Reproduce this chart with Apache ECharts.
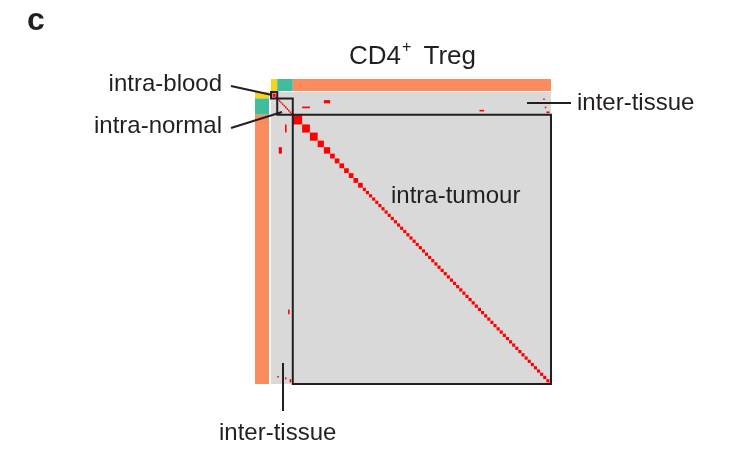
<!DOCTYPE html>
<html>
<head>
<meta charset="utf-8">
<script src="https://cdn.jsdelivr.net/npm/echarts@6/dist/echarts.min.js"></script>
<style>
html,body{margin:0;padding:0;background:#fff;}
#chart{width:729px;height:457px;}
</style>
</head>
<body>
<div id="chart"></div>
<script>
// ---- data ----
const tissueNames = ['blood', 'normal', 'tumour'];
const tissueCellCounts = [4, 10, 166];
const tissueColors = ['#f7d417', '#3fbd9c', '#fc8b5e'];
// clonotype sizes along the diagonal (cells), per tissue
const diagBlocksBlood = [1, 2, 1];
const diagBlocksNormal = [1, 1, 1, 1, 1, 1, 1, 1, 1, 1];
const diagBlocksTumour = [6, 5, 5, 4, 4, 3, 3, 3, 3, 3, 3, 3,
  2, 2, 2, 2, 2, 2, 2, 2, 2, 2,
  2, 2, 2, 2, 2, 2, 2, 2, 2, 2,
  2, 2, 2, 2, 2, 2, 2, 2, 2, 2,
  2, 2, 2, 2, 2, 2, 2, 2, 2, 2,
  2, 2, 2, 2, 2, 2, 2, 2, 2, 2,
  2, 2, 2, 2, 2, 2, 2, 2, 2, 2,
  1];
// inter-tissue sharing (upper triangle; mirrored below)
const sharedRowStart = [9, 5, 11, 4, 9, 12];
const sharedRowLen   = [1, 2, 1, 1, 1, 1];
const sharedColStart = [20, 34, 134, 175, 176, 177];
const sharedColLen   = [5, 4, 3, 1, 1, 2];
const boxLabels = ['intra-blood', 'intra-normal', 'intra-tumour'];

// ---- build ----
const N = tissueCellCounts.reduce((a, b) => a + b, 0);
const tissueStart = [];
let acc = 0;
tissueCellCounts.forEach(c => { tissueStart.push(acc); acc += c; });

const barData = tissueCellCounts.map((c, i) => [tissueStart[i], c, i]);
const diagData = [];
[diagBlocksBlood, diagBlocksNormal, diagBlocksTumour].forEach((blocks, t) => {
  let s = tissueStart[t];
  blocks.forEach(b => { diagData.push([s, s, b, b]); s += b; });
});
const sharedData = [];
sharedRowStart.forEach((r, i) => {
  sharedData.push([sharedColStart[i], r, sharedColLen[i], sharedRowLen[i]]);
  sharedData.push([r, sharedColStart[i], sharedRowLen[i], sharedColLen[i]]);
});
const boxData = tissueCellCounts.map((c, i) => [tissueStart[i], tissueStart[i], c, c]);

function rectItem(params, api, style) {
  const p0 = api.coord([api.value(0), api.value(1)]);
  const p1 = api.coord([api.value(0) + api.value(2), api.value(1) + api.value(3)]);
  return {
    type: 'rect',
    shape: { x: p0[0], y: p0[1], width: p1[0] - p0[0], height: p1[1] - p0[1] },
    style: style
  };
}

const chart = echarts.init(document.getElementById('chart'), null, { renderer: 'canvas' });
const textColor = '#231f20';
const font = 'Liberation Sans, Arial, Helvetica, sans-serif';

function txt(text, x, y, size, align, weight) {
  return {
    type: 'text',
    style: {
      text: text, x: x, y: y,
      fill: textColor,
      fontSize: size, fontFamily: font, fontWeight: weight || 'normal',
      align: align, textAlign: align,
      verticalAlign: 'middle', textVerticalAlign: 'middle'
    },
    z: 100
  };
}
function line(x1, y1, x2, y2) {
  return { type: 'line', shape: { x1, y1, x2, y2 }, style: { stroke: textColor, lineWidth: 2 }, z: 100 };
}

chart.setOption({
  backgroundColor: '#ffffff',
  animation: false,
  grid: { left: 271, top: 92, width: 280, height: 292 },
  xAxis: { type: 'value', min: 0, max: N, show: false },
  yAxis: { type: 'value', min: 0, max: N, inverse: true, show: false },
  series: [
    {
      type: 'custom', clip: false, z: 1,
      data: [[0, 0, N, N]],
      renderItem: (p, api) => rectItem(p, api, { fill: '#d9d9d9' })
    },
    {
      type: 'custom', clip: false, z: 2,
      data: barData,
      renderItem: (p, api) => {
        const s = api.value(0), c = api.value(1), t = api.value(2);
        const a = api.coord([s, s]);
        const b = api.coord([s + c, s + c]);
        const o = api.coord([0, 0]);
        const col = tissueColors[t];
        return {
          type: 'group',
          children: [
            { type: 'rect', shape: { x: a[0], y: o[1] - 13, width: b[0] - a[0], height: 12 }, style: { fill: col } },
            { type: 'rect', shape: { x: o[0] - 16, y: a[1], width: 14, height: b[1] - a[1] }, style: { fill: col } }
          ]
        };
      }
    },
    {
      type: 'custom', clip: false, z: 3,
      data: diagData,
      renderItem: (p, api) => rectItem(p, api, { fill: '#fe0000' })
    },
    {
      type: 'custom', clip: false, z: 3,
      data: sharedData,
      renderItem: (p, api) => rectItem(p, api, { fill: '#fe0000' })
    },
    {
      type: 'custom', clip: false, z: 4,
      data: boxData,
      renderItem: (p, api) => rectItem(p, api, { fill: 'none', stroke: textColor, lineWidth: 2 })
    }
  ],
  graphic: [
    txt('c', 27, 21, 32, 'left', 'bold'),
    txt('CD4', 349, 57, 26, 'left'),
    txt('+', 402, 48, 16, 'left'),
    txt('Treg', 476, 57, 26, 'right'),
    txt(boxLabels[0], 222, 84, 24, 'right'),
    txt(boxLabels[1], 222, 126, 24, 'right'),
    txt('inter-tissue', 577, 103, 24, 'left'),
    txt(boxLabels[2], 391, 196, 24, 'left'),
    txt('inter-tissue', 219, 433, 24, 'left'),
    line(231, 86, 272, 95),
    line(231, 128, 282, 112),
    line(527, 103, 571, 103),
    line(283, 363, 283, 411)
  ]
});
</script>
</body>
</html>
